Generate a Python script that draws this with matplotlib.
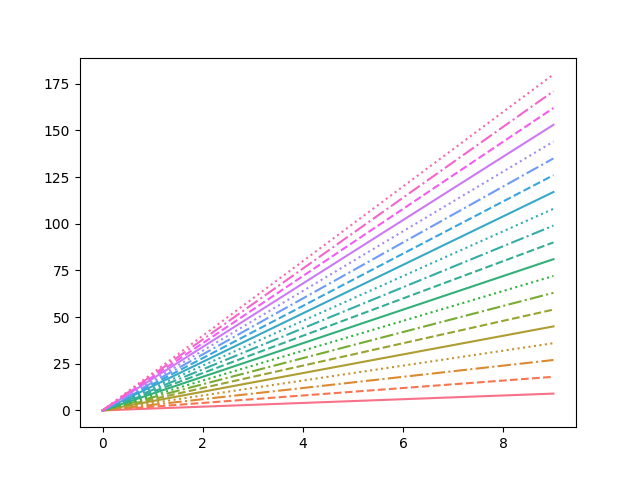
import matplotlib
matplotlib.use("Agg")
import matplotlib.pyplot as plt
import seaborn as sns

# x range and the value each line reaches at x = 9
x_values = [0, 9]
end_values = [9, 18, 27, 36, 45, 54, 63, 72, 81, 90,
              99, 108, 117, 126, 135, 144, 153, 162, 171, 180]
line_styles = ['-', '--', '-.', ':']

colors = sns.color_palette("husl", len(end_values))

fig, ax = plt.subplots(figsize=(6.4, 4.8), dpi=100)
for i, end in enumerate(end_values):
    ax.plot(x_values, [0, end], color=colors[i],
            linestyle=line_styles[i % len(line_styles)])

fig.savefig("out.png")
